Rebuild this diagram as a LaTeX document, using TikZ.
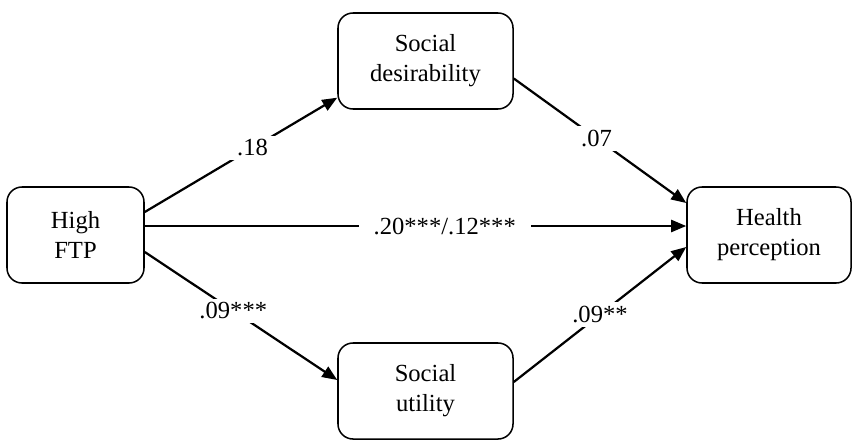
\documentclass[tikz,border=0pt]{standalone}
\usepackage{fontspec}
\setmainfont{Liberation Serif}
\usetikzlibrary{positioning}
\usetikzlibrary{calc}
\usetikzlibrary{arrows.meta}
\tikzset{
	every node/.style={align=center,font=\fontsize{21}{25.6}\selectfont},
	box/.style={draw,rounded corners=0.45cm,line width=1.3pt,inner sep=0pt,minimum height=2.88cm},
	link/.style={line width=1.9pt,-{Triangle[length=0.45cm,width=0.36cm]}},
	coef/.style={fill=white,inner xsep=0.45cm,inner ysep=0.12cm},
}

\begin{document}
\begin{tikzpicture}[x=0.03cm,y=-0.03cm]
	\useasboundingbox (0,0) rectangle (853,441);

	%boxes.....................
	\node [box,minimum width=4.11cm] (hftp) at (75.5,235) {High\\FTP};
	\node [box,minimum width=5.25cm] (socdes) at (425.5,61) {Social\\desirability};
	\node [box,minimum width=5.25cm] (socutil) at (425.5,391) {Social\\utility};
	\node [box,minimum width=4.92cm] (health) at (769,235) {Health\\perception};

	% upper path...................
	\draw [link] ([yshift=0.69cm]hftp.east) -- node [coef,pos=0.56] {.18} ([yshift=-1.1cm]socdes.west);
	\draw [link] ([yshift=-0.525cm]socdes.east) -- node [coef,pos=0.48] {.07} ([yshift=0.96cm]health.west);

	% direct path...................
	\draw [link] ([yshift=0.27cm]hftp.east) -- node [coef,pos=0.554] {.20***/.12***} ([yshift=0.27cm]health.west);

	% lower path...................
	\draw [link] ([yshift=-0.51cm]hftp.east) -- node [coef,pos=0.46] {.09***} ([yshift=0.33cm]socutil.west);
	\draw [link] ([yshift=0.27cm]socutil.east) -- node [coef,pos=0.5] {.09**} ([yshift=-0.36cm]health.west);

\end{tikzpicture}
\end{document}
